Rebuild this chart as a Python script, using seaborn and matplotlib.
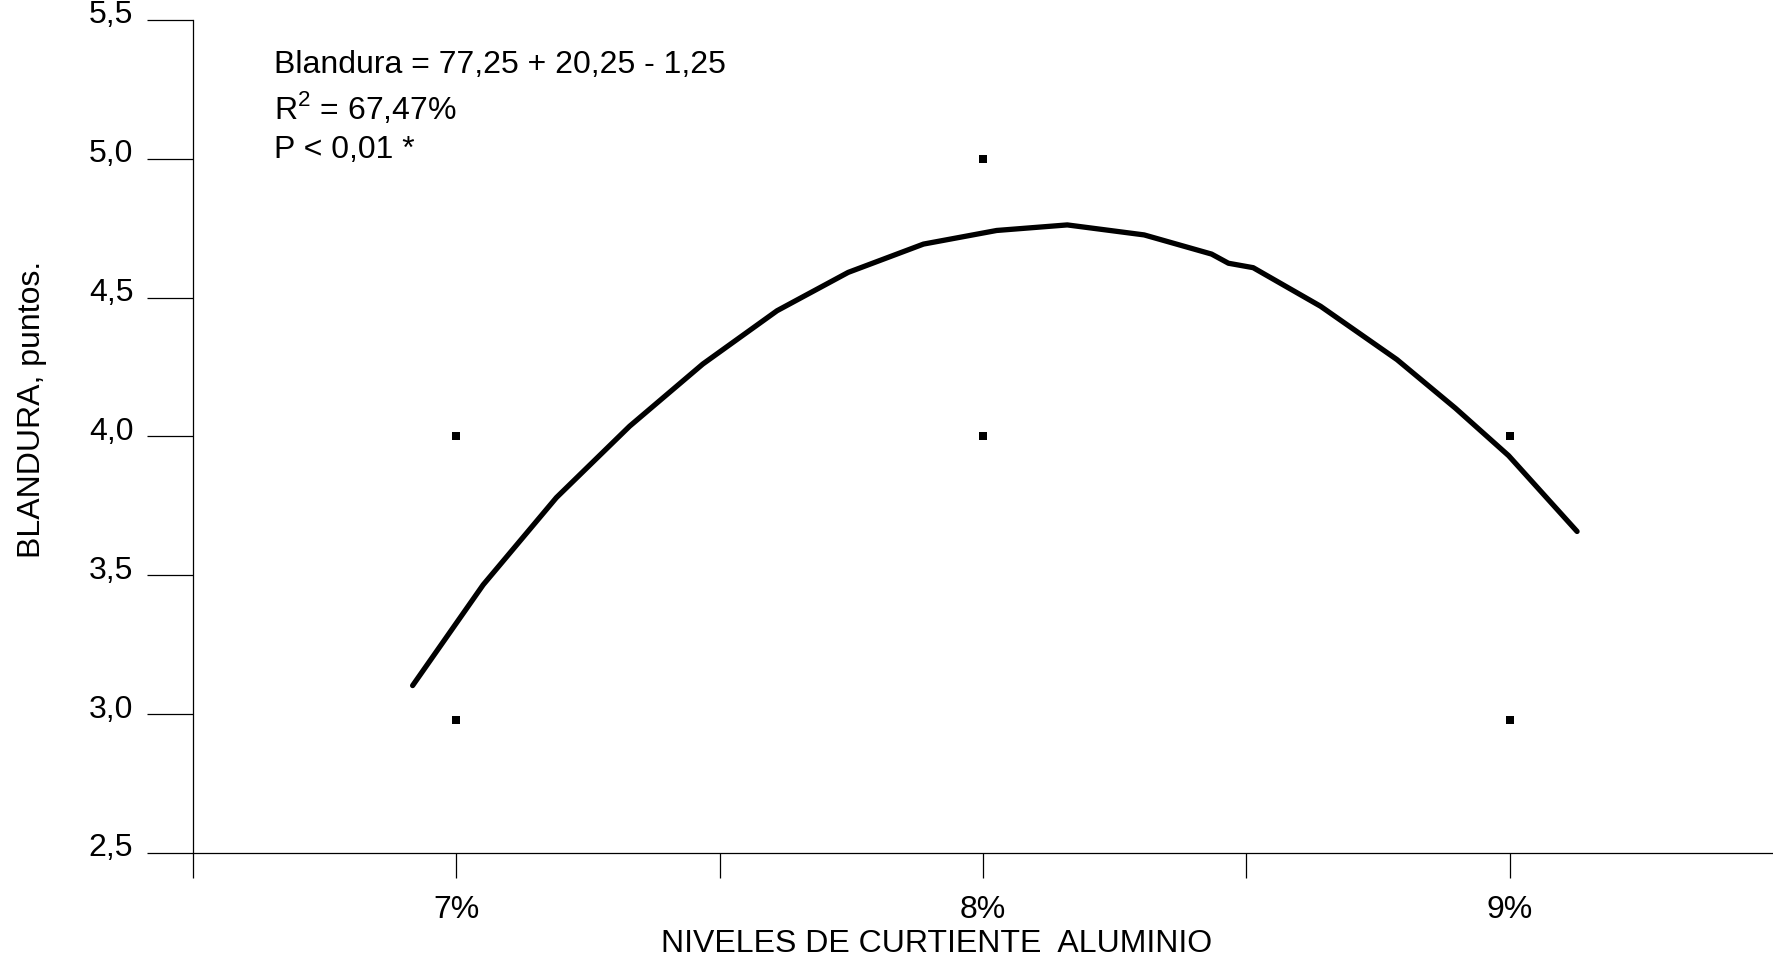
import matplotlib
matplotlib.use("Agg")
import matplotlib.pyplot as plt
import matplotlib.transforms as mtransforms
import seaborn as sns
import pandas as pd

# Observed points
obs_level = [7.0, 7.0, 8.0, 8.0, 9.0, 9.0]
obs_value = [4.0, 2.98, 5.0, 4.0, 4.0, 2.98]

# Fitted curve
fit_level = [6.917, 7.051, 7.190, 7.329, 7.468, 7.609, 7.744, 7.887, 8.026,
             8.160, 8.306, 8.434, 8.466, 8.513, 8.641, 8.786, 8.897, 8.998, 9.128]
fit_value = [3.103, 3.466, 3.780, 4.037, 4.261, 4.453, 4.591, 4.693, 4.742,
             4.762, 4.726, 4.657, 4.624, 4.608, 4.469, 4.277, 4.102, 3.931, 3.658]

x_ticks = [6.5, 7.0, 7.5, 8.0, 8.5, 9.0]
x_ticklabels = ["", "7%", "", "8%", "", "9%"]
y_ticks = [2.5, 3.0, 3.5, 4.0, 4.5, 5.0, 5.5]
y_ticklabels = ["2,5", "3,0", "3,5", "4,0", "4,5", "5,0", "5,5"]

annot_lines = ["Blandura = 77,25 + 20,25 - 1,25", "R$^{2}$ = 67,47%", "P < 0,01 *"]
ylabel = "BLANDURA, puntos."
xlabel = "NIVELES DE CURTIENTE  ALUMINIO"

sns.set_theme(style="white")
plt.rcParams["font.family"] = ["Liberation Sans", "DejaVu Sans"]
plt.rcParams["mathtext.fontset"] = "custom"
plt.rcParams["mathtext.rm"] = "Liberation Sans"

FS = 23

fig = plt.figure(figsize=(17.73, 9.63), dpi=100)
ax = fig.add_axes([193 / 1773, 110 / 963, 1 - 193 / 1773, (853 - 20) / 963])

df_fit = pd.DataFrame({"x": fit_level, "y": fit_value})
df_obs = pd.DataFrame({"x": obs_level, "y": obs_value})

sns.lineplot(data=df_fit, x="x", y="y", ax=ax, color="black", linewidth=3.8,
             sort=False, estimator=None)
sns.scatterplot(data=df_obs, x="x", y="y", ax=ax, color="black", marker="s",
                s=30, linewidth=0)

ax.set_xlim(6.5, 9.5)
ax.set_ylim(2.5, 5.5)
ax.set_xticks(x_ticks)
ax.set_xticklabels(x_ticklabels, fontsize=FS)
ax.set_yticks(y_ticks)
ax.set_yticklabels(y_ticklabels, fontsize=FS)
ax.tick_params(axis="x", bottom=True, direction="out", length=18, width=0.9,
               color="black", pad=12, labelcolor="black")
ax.tick_params(axis="y", left=True, direction="out", length=33, width=0.9,
               color="black", pad=10, labelcolor="black")
shift = mtransforms.ScaledTranslation(0, 8 / 100, fig.dpi_scale_trans)
for lab in ax.get_yticklabels():
    lab.set_transform(lab.get_transform() + shift)

for s in ["top", "right"]:
    ax.spines[s].set_visible(False)
for s in ["left", "bottom"]:
    ax.spines[s].set_color("black")
    ax.spines[s].set_linewidth(0.9)

ax.set_xlabel("")
ax.set_ylabel("")

ys = [5.337, 5.182, 5.032]
for t, yy in zip(annot_lines, ys):
    ax.text(6.654, yy, t, fontsize=FS, va="center", ha="left", color="black")

fig.text(32 / 1773, 1 - 409 / 963, ylabel, rotation=90, fontsize=FS,
         ha="center", va="center", color="black")
fig.text(937 / 1773, 1 - 944 / 963, xlabel, fontsize=FS, ha="center",
         va="center", color="black")

fig.savefig("out.png", dpi=100, facecolor="white")
